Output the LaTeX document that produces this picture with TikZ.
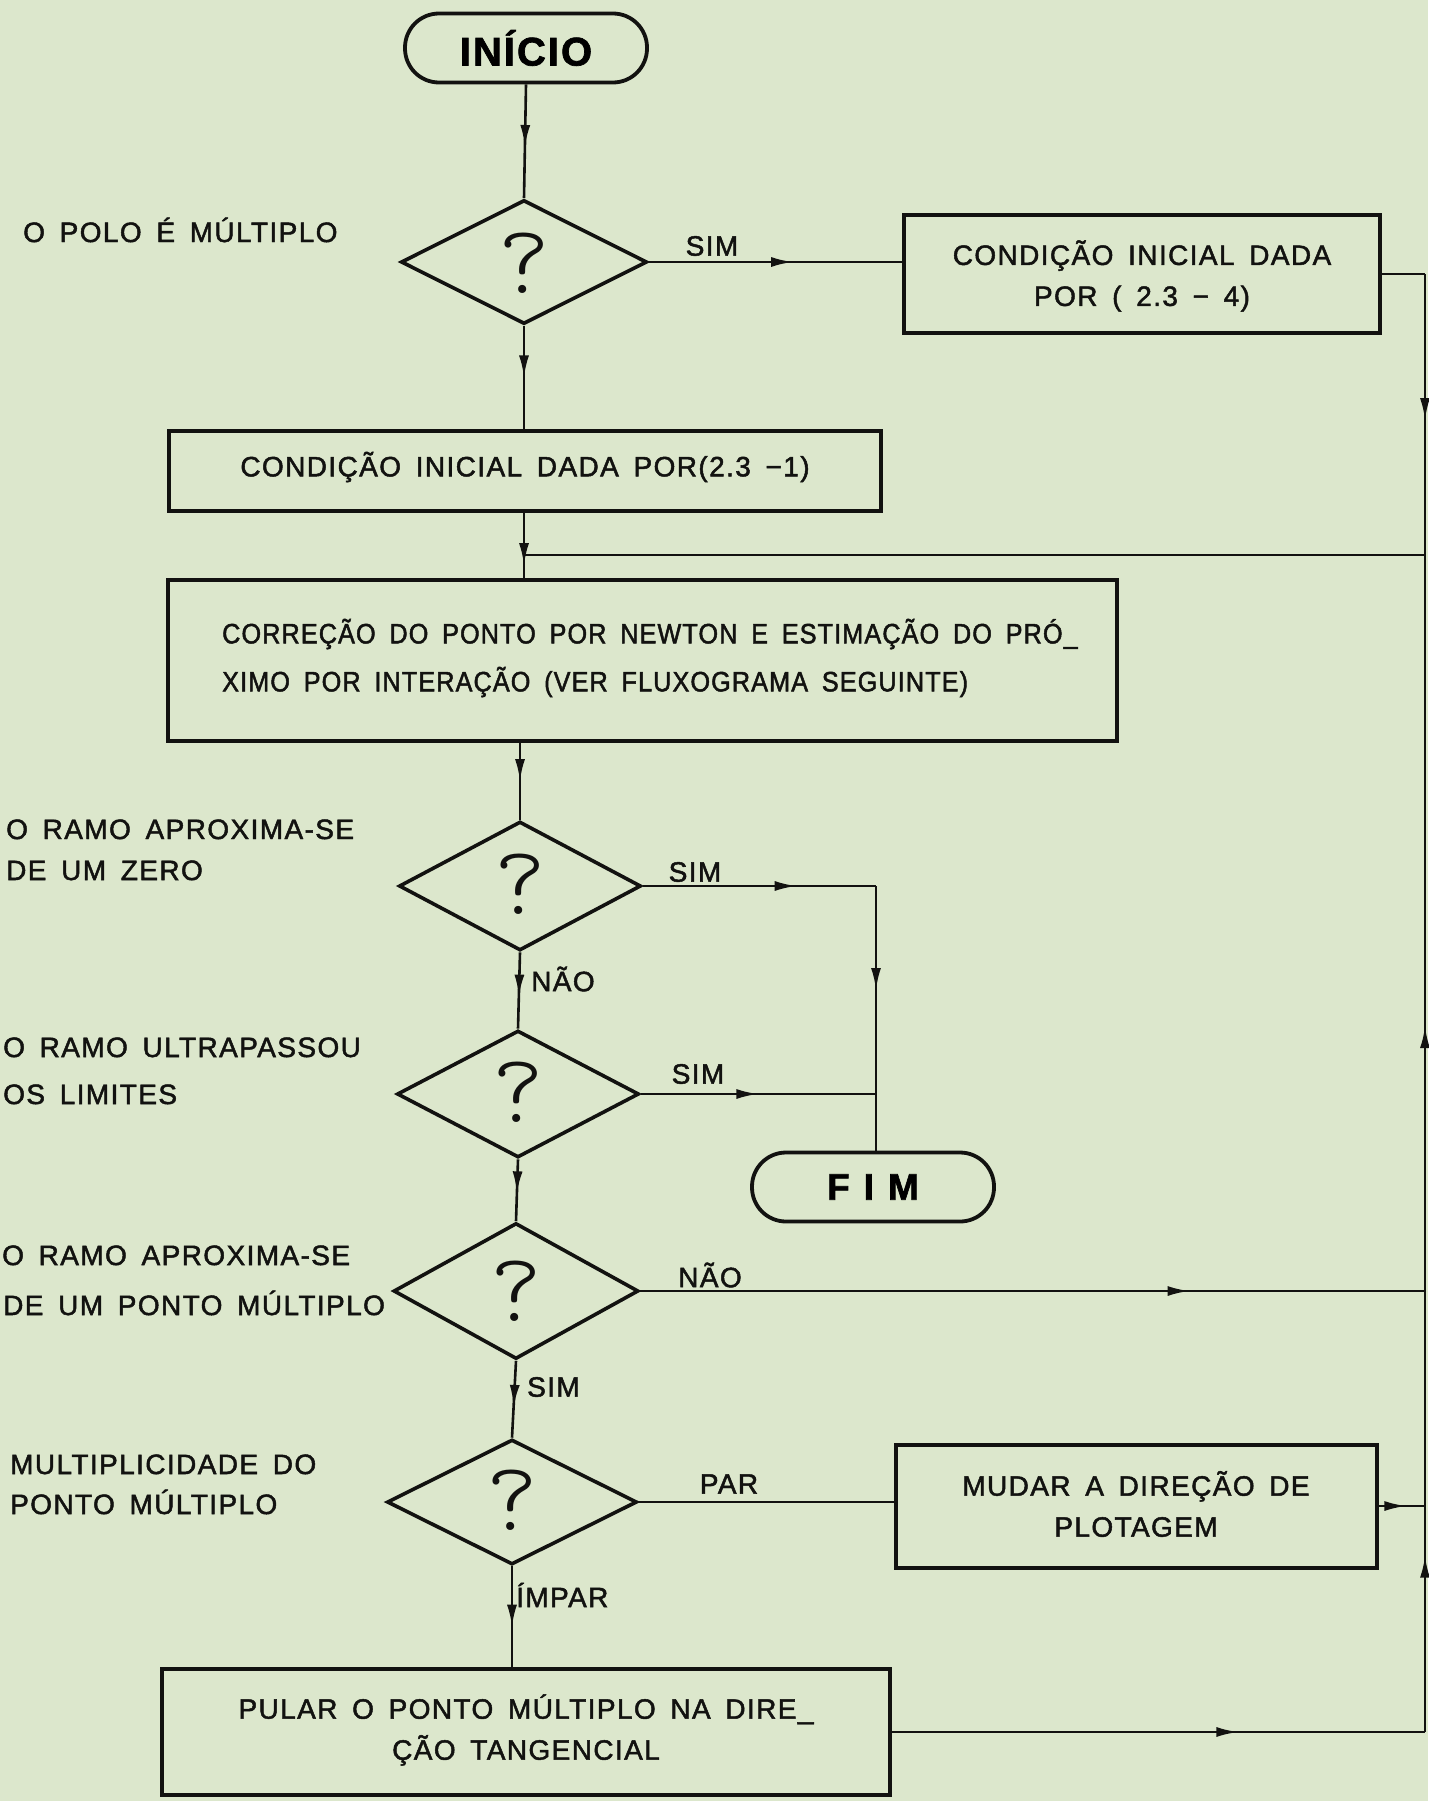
\documentclass[tikz,border=0pt]{standalone}
\usepackage{fontspec}
\setmainfont{Liberation Sans}
\newfontfamily\lett[LetterSpace=5,WordSpace=1.6,FakeBold=1.7]{Liberation Sans}
\newfontfamily\lettc[LetterSpace=4,WordSpace=1.7,FakeBold=1.7,FakeStretch=0.9]{Liberation Sans}
\usetikzlibrary{shapes.geometric,decorations.markings,arrows.meta}

\definecolor{paper}{RGB}{220,231,204}
\definecolor{ink}{RGB}{18,18,16}

\tikzset{
  box/.style={draw=ink, line width=4pt, rectangle, inner sep=0pt},
  term/.style={draw=ink, line width=3.8pt, rectangle, rounded corners=34pt, inner sep=0pt, minimum height=69pt, minimum width=242pt},
  dec/.style={draw=ink, line width=3.6pt, diamond, inner sep=0pt},
  conn/.style={draw=ink, line width=2.6pt},
  marrow/.style={postaction={decorate}, decoration={markings, mark=at position #1 with {\arrow{Latex[length=22pt,width=10pt]}}}},
  txt/.style={font=\lett\fontsize{28}{41}\selectfont, inner sep=0pt, text=ink},
  txtc/.style={font=\lettc\fontsize{28}{48}\selectfont, inner sep=0pt, text=ink},
  lbl/.style={font=\lett\fontsize{28}{44}\selectfont, inner sep=0pt, text=ink, anchor=base west},
  qmark/.style={font=\ttfamily\fontseries{l}\fontsize{98}{98}\selectfont, inner sep=0pt, text=ink},
}

\begin{document}
\begin{tikzpicture}[x=1pt,y=-1pt]
\fill[paper] (0,0) rectangle (1428,1801);
\useasboundingbox (0,0) rectangle (1428,1801);

% terminators
\node[term] (start) at (526,48) {\lett\bfseries\fontsize{40}{40}\selectfont I\hspace{2pt}NÍCIO};
\node[term] (fim) at (873,1187) {\lett\bfseries\fontsize{37}{37}\selectfont F\hspace{14pt}I\hspace{14pt}M};

% decisions
\node[dec, minimum width=246pt, minimum height=124pt] (d1) at (524,262) {};
\node[dec, minimum width=242pt, minimum height=129pt] (d2) at (520,886) {};
\node[dec, minimum width=242pt, minimum height=127pt] (d3) at (518,1094) {};
\node[dec, minimum width=245pt, minimum height=136pt] (d4) at (516,1291) {};
\node[dec, minimum width=250pt, minimum height=125pt] (d5) at (512,1502) {};
\node[qmark] (q1) at (524,263) {?};
\node[qmark] (q2) at (520,884) {?};
\node[qmark] (q3) at (518,1092) {?};
\node[qmark] (q4) at (516,1291) {?};
\node[qmark] (q5) at (512,1500) {?};

% process boxes
\node[box, minimum width=476pt, minimum height=118pt] (b1) at (1142,274) {};
\node[txt, align=center] (t1) at (1142,276) {CONDIÇÃO INICIAL DADA\\POR ( 2.3 − 4)};
\node[box, minimum width=712pt, minimum height=80pt] (b2) at (525,471) {};
\node[txt] (t2) at (525,467) {CONDIÇÃO INICIAL DADA POR(2.3 −1)};
\node[box, minimum width=949pt, minimum height=161pt] (b3) at (642,660) {};
\node[txtc, align=left, anchor=west] (t3) at (222,658) {CORREÇÃO DO PONTO POR NEWTON E ESTIMAÇÃO DO PRÓ\_\\XIMO POR INTERAÇÃO (VER FLUXOGRAMA SEGUINTE)};
\node[box, minimum width=481pt, minimum height=123pt] (b4) at (1136,1506) {};
\node[txt, align=center] (t4) at (1136,1504) {MUDAR A DIREÇÃO DE\\PLOTAGEM};
\node[box, minimum width=728pt, minimum height=126pt] (b5) at (526,1732) {};
\node[txt, align=center] (t5) at (526,1730) {PULAR O PONTO MÚLTIPLO NA DIRE\_\\ÇÃO TANGENCIAL};

% left labels
\node[lbl] (l1) at (23,242) {O POLO É MÚLTIPLO};
\node[lbl] (l2a) at (6,839) {O RAMO APROXIMA-SE};
\node[lbl] (l2b) at (6,880) {DE UM ZERO};
\node[lbl] (l3a) at (3,1057) {O RAMO ULTRAPASSOU};
\node[lbl] (l3b) at (3,1104) {OS LIMITES};
\node[lbl] (l4a) at (2,1265) {O RAMO APROXIMA-SE};
\node[lbl] (l4b) at (3,1315) {DE UM PONTO MÚLTIPLO};
\node[lbl] (l5a) at (10,1474) {MULTIPLICIDADE DO};
\node[lbl] (l5b) at (10,1514) {PONTO MÚLTIPLO};

% connector labels
\node[txt] (s1) at (712,246) {SIM};
\node[txt] (s2) at (695,872) {SIM};
\node[txt, anchor=west] (n2) at (531,979) {NÃO};
\node[txt] (s3) at (698,1074) {SIM};
\node[txt] (n4) at (710,1275) {NÃO};
\node[txt, anchor=west] (s4) at (527,1387) {SIM};
\node[txt] (p5) at (729,1484) {PAR};
\node[txt, anchor=west] (i5) at (516,1595) {ÍMPAR};

% junction coordinates
\coordinate (jm) at (524,555);
\coordinate (rj) at (1425,555);
\coordinate (rbot) at (1425,1738);
\coordinate (fx) at (876,886);
\coordinate (fx3) at (876,1094);

% connectors
\draw[conn, marrow=0.55] (start.south) -- (d1.north);
\draw[conn, marrow=0.57] (d1.east) -- (d1.east -| b1.west);
\draw[conn, marrow=0.5] (d1.south) -- (d1.south |- b2.north);
\draw[conn] (b2.south -| jm) -- (jm);
\draw[conn, marrow=0.45] (jm) -- (jm |- b3.north);
\draw[conn] (b1.east) -- (b1.east -| rj);
\draw[conn, marrow=0.52] (b1.east -| rj) -- (rj);
\draw[conn] (rj) -- (jm);
\draw[conn, marrow=0.5] (d2.north |- b3.south) -- (d2.north);
\draw[conn, marrow=0.66] (d2.east) -- (d2.east -| fx);
\draw[conn, marrow=0.5] (d2.east -| fx) -- (fx3);
\draw[conn] (fx3) -- (fim.north -| fx3);
\draw[conn, marrow=0.58] (d2.south) -- (d3.north);
\draw[conn, marrow=0.5] (d3.east) -- (d3.east -| fx3);
\draw[conn, marrow=0.55] (d3.south) -- (d4.north);
\draw[conn, marrow=0.7] (d4.east) -- (d4.east -| rj);
\draw[conn, marrow=0.6] (d4.south) -- (d5.north);
\draw[conn] (d5.east) -- (d5.east -| b4.west);
\draw[conn, marrow=0.6] (d5.south) -- (d5.south |- b5.north);
\draw[conn, marrow=0.6] (b4.east) -- (b4.east -| rj);
\draw[conn, marrow=0.65] (b5.east) -- (b5.east -| rbot);
\draw[conn, marrow=0.4] (b5.east -| rbot) -- (d4.east -| rj);
\draw[conn, marrow=0.36] (d4.east -| rj) -- (rj);
\end{tikzpicture}
\end{document}
